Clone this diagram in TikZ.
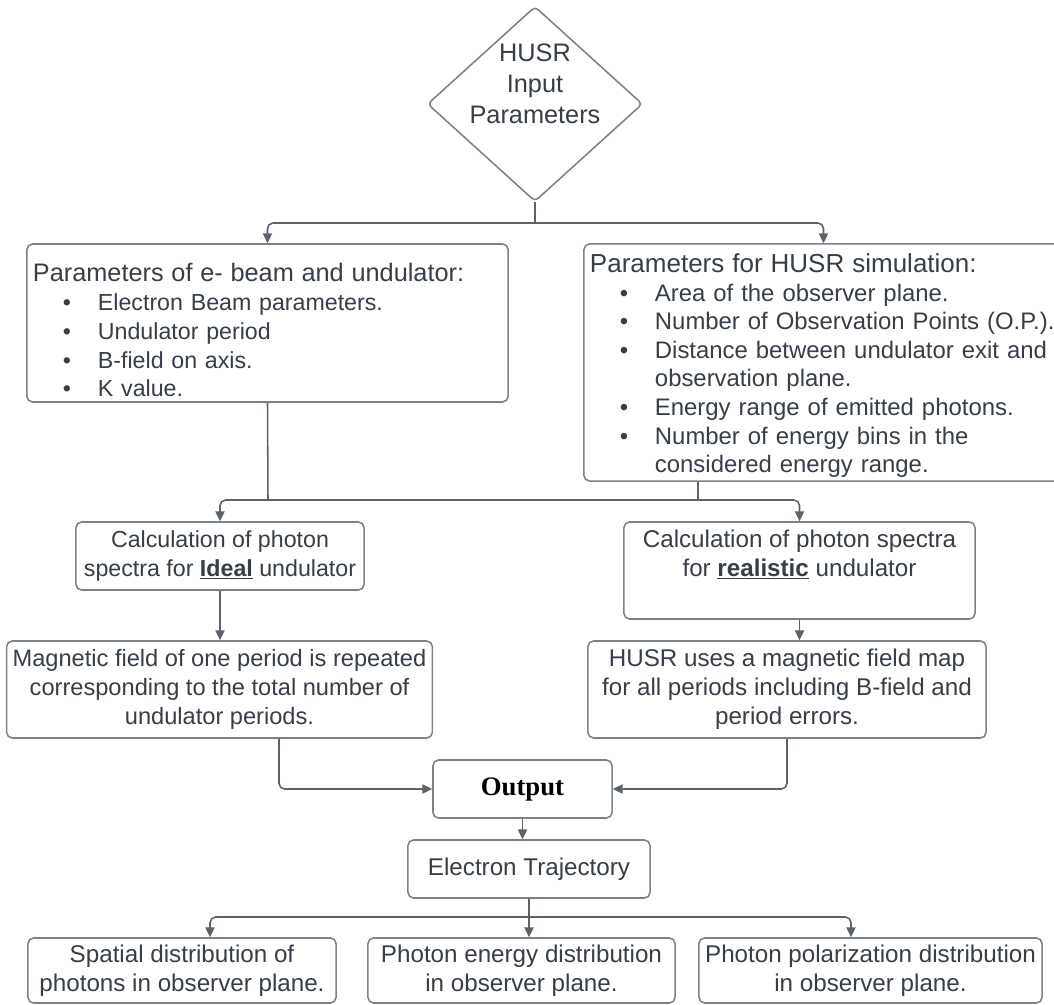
\documentclass[tikz,border=0pt]{standalone}
\usepackage{fontspec}
\setmainfont{Liberation Sans}
\newfontfamily\outfont{Liberation Serif}
\usetikzlibrary{arrows.meta, shapes.geometric, calc}

\definecolor{linegray}{RGB}{92,98,108}
\definecolor{boxgray}{RGB}{124,130,138}
\definecolor{textgray}{RGB}{55,62,72}

\tikzset{
  flowbox/.style={rectangle, rounded corners=4pt, draw=boxgray, line width=1.1pt,
    text=textgray, font=\fontsize{17.2}{20.6}\selectfont, align=center,
    inner xsep=0.15cm, inner ysep=2pt},
  flowline/.style={draw=linegray, line width=1.1pt, rounded corners=4pt},
  flowarr/.style={flowline, -{Triangle[length=7pt,width=6.5pt]}}
}
\newcommand{\bitem}[1]{\hspace*{0.75cm}\makebox[0.875cm][l]{\textbullet}#1}

\begin{document}
\begin{tikzpicture}[x=0.025cm, y=-0.025cm]
      \fill[white] (0,0) rectangle (1054,1005);
      \useasboundingbox (0,0) rectangle (1054,1005);

      \node[diamond, draw=boxgray, line width=1.1pt, rounded corners=3pt,
            minimum width=5.375cm, minimum height=4.875cm, inner sep=0pt]
            (inp) at (535,104) {};
      \node[text=textgray, font=\fontsize{18}{22}\selectfont, align=center]
            (inptxt) at (535,84) {HUSR\\Input\\Parameters};

      \node[flowbox, text width=11.725cm, align=left, minimum height=3.95cm,
            font=\fontsize{16.5}{20.6}\selectfont]
            (beam) at (267.5,323) {\rule{0pt}{23pt}{\fontsize{18}{20.6}\selectfont Parameters of e- beam and undulator:}\\
            \bitem{Electron Beam parameters.}\\
            \bitem{Undulator period}\\
            \bitem{B-field on axis.}\\
            \bitem{K value.}};
      \node[flowbox, text width=11.675cm, align=left, minimum height=5.925cm,
            font=\fontsize{17}{20.3}\selectfont]
            (sim) at (823.5,362.5) {\rule{0pt}{18pt}{\fontsize{18.5}{20.3}\selectfont Parameters for HUSR simulation:}\\
            \bitem{Area of the observer plane.}\\
            \bitem{Number of Observation Points (O.P.).}\\
            \bitem{Distance between undulator exit and}\\
            \hspace*{1.625cm}observation plane.\\
            \bitem{Energy range of emitted photons.}\\
            \bitem{Number of energy bins in the}\\
            \hspace*{1.625cm}considered energy range.};

      \node[flowbox, minimum width=7.2cm, minimum height=1.7cm,
            font=\fontsize{16.5}{20.6}\selectfont]
            (ideal) at (220,556) {Calculation of photon\\spectra for \underline{\textbf{Ideal}} undulator};
      \node[flowbox, minimum width=8.775cm, minimum height=2.425cm]
            (real) at (799.5,570.5) {Calculation of photon spectra\\for \underline{\textbf{realistic}} undulator\\[4pt]\mbox{}};
      \node[flowbox, minimum width=10.625cm, minimum height=2.425cm,
            font=\fontsize{16.8}{20.6}\selectfont]
            (mag) at (219.5,689.5) {Magnetic field of one period is repeated\\corresponding to the total number of\\undulator periods.};
      \node[flowbox, minimum width=9.95cm, minimum height=2.425cm]
            (map) at (787,689.5) {HUSR uses a magnetic field map\\for all periods including B-field and\\period errors.};
      \node[flowbox, minimum width=4.475cm, minimum height=1.45cm,
            font=\outfont\bfseries\fontsize{19}{22}\selectfont, text=black]
            (out) at (522.5,789) {Output};
      \node[flowbox, minimum width=6.05cm, minimum height=1.45cm]
            (traj) at (529,869) {Electron Trajectory};
      \node[flowbox, minimum width=7.7cm, minimum height=1.625cm]
            (spat) at (182,970.5) {Spatial distribution of\\photons in observer plane.};
      \node[flowbox, minimum width=7.675cm, minimum height=1.625cm]
            (ener) at (521.5,970.5) {Photon energy distribution\\in observer plane.};
      \node[flowbox, minimum width=8.575cm, minimum height=1.625cm]
            (pol) at (870.5,970.5) {Photon polarization distribution\\in observer plane.};

      \coordinate (bus1) at (535,223);
      \coordinate (bus2) at (268,500);
      \coordinate (bus2b) at (698,500);
      \coordinate (m1) at (279,789);
      \coordinate (bus3) at (529,917);
      \coordinate (b3l) at (210,917);
      \coordinate (b3r) at (851,917);

      \draw[flowline] (inp.south) -- (bus1);
      \draw[flowarr] (bus1) -- (bus1 -| beam.north) -- (beam.north);
      \draw[flowarr] (bus1) -- (bus1 -| sim.north) -- (sim.north);

      \draw[flowline] (beam.south) -- (bus2);
      \draw[flowline] (sim.south -| bus2b) -- (bus2b);
      \draw[flowarr] (bus2) -- (bus2 -| ideal.north) -- (ideal.north);
      \draw[flowarr] (bus2) -- (bus2 -| real.north) -- (real.north);

      \draw[flowarr] (ideal.south) -- (ideal.south |- mag.north);
      \draw[flowarr] (real.south) -- (real.south |- map.north);
      \draw[flowarr] (mag.south -| m1) -- (m1) -- (out.west);
      \draw[flowarr] (map.south) -- (map.south |- out.east) -- (out.east);
      \draw[flowarr] (out.south) -- (out.south |- traj.north);

      \draw[flowline] (traj.south) -- (bus3);
      \draw[flowarr] (bus3) -- (b3l) -- (b3l |- spat.north);
      \draw[flowarr] (bus3) -- (bus3 |- ener.north);
      \draw[flowarr] (bus3) -- (b3r) -- (b3r |- pol.north);
\end{tikzpicture}
\end{document}
